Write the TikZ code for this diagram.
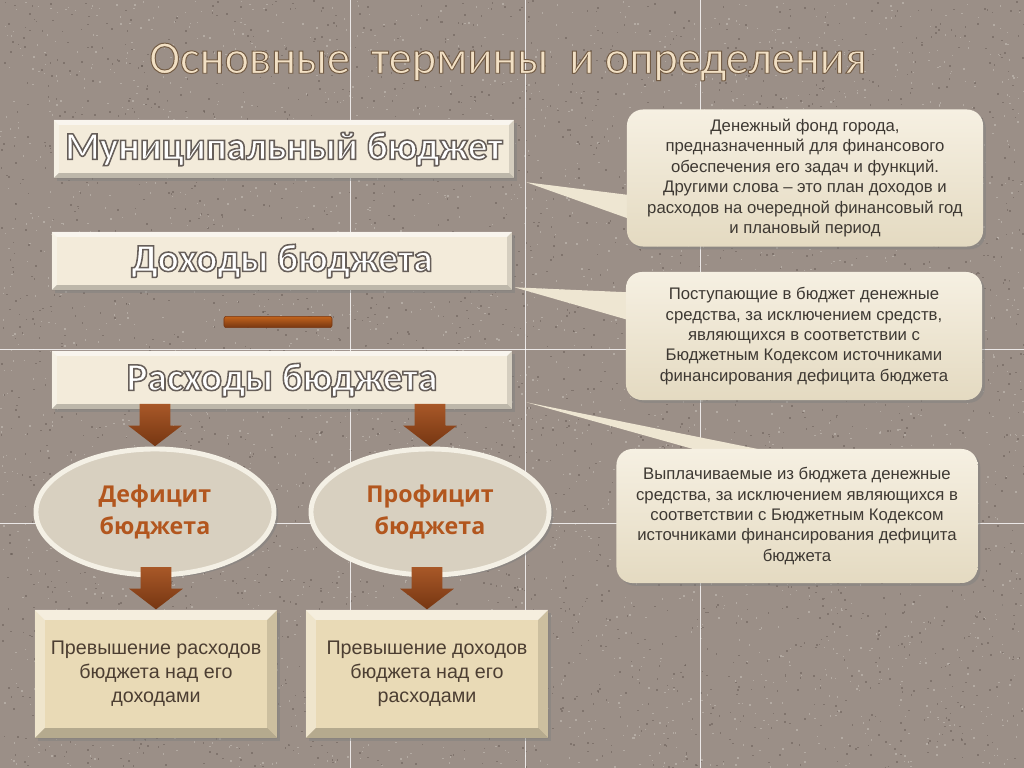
\documentclass[tikz,border=0pt]{standalone}
\usepackage{fontspec}
\setmainfont{Liberation Sans}
\newfontfamily\titlefont{Carlito}
\newfontfamily\ovalfont{Open Sans}
\usepackage{tikz}
\usetikzlibrary{shapes.geometric, shapes.arrows, positioning, calc, shadows}
\definecolor{stone}{RGB}{155,143,135}
\definecolor{speckdark}{RGB}{106,95,88}
\definecolor{specklight}{RGB}{196,188,181}
\definecolor{titlecol}{RGB}{242,224,196}
\definecolor{hdrcream}{RGB}{243,235,218}
\definecolor{calltop}{RGB}{246,240,226}
\definecolor{callbot}{RGB}{228,218,193}
\definecolor{callmid}{RGB}{238,230,210}
\definecolor{calltext}{RGB}{62,57,51}
\definecolor{ovalfill}{RGB}{216,208,192}
\definecolor{ovalrim}{RGB}{244,240,229}
\definecolor{ovaltext}{RGB}{178,86,30}
\definecolor{boxtan}{RGB}{233,218,182}
\definecolor{boxtext}{RGB}{76,62,50}
\definecolor{arrtop}{RGB}{168,88,40}
\definecolor{arrbot}{RGB}{118,54,18}
\pgfdeclarelayer{stonelayer}
\pgfdeclarelayer{tails}
\pgfsetlayers{stonelayer,tails,main}
% text filled in the current colour and stroked: #1 stroke rgb, #2 width
\newcommand{\strokedtext}[3]{{\special{pdf:literal direct #1 RG 2 Tr #2 w}#3\special{pdf:literal direct 0 Tr}}}
% bevelled edges inside a rectangle node
\newcommand{\bevelfill}[1]{%
  \fill[white, opacity=.55] (path picture bounding box.north west) -- (path picture bounding box.north east)
    -- ([shift={(-#1,-#1)}]path picture bounding box.north east) -- ([shift={(#1,-#1)}]path picture bounding box.north west) -- cycle;
  \fill[white, opacity=.3] (path picture bounding box.north west) -- (path picture bounding box.south west)
    -- ([shift={(#1,#1)}]path picture bounding box.south west) -- ([shift={(#1,-#1)}]path picture bounding box.north west) -- cycle;
  \fill[black, opacity=.22] (path picture bounding box.south west) -- (path picture bounding box.south east)
    -- ([shift={(-#1,#1)}]path picture bounding box.south east) -- ([shift={(#1,#1)}]path picture bounding box.south west) -- cycle;
  \fill[black, opacity=.12] (path picture bounding box.north east) -- (path picture bounding box.south east)
    -- ([shift={(-#1,#1)}]path picture bounding box.south east) -- ([shift={(-#1,-#1)}]path picture bounding box.north east) -- cycle;
}
\tikzset{
  shade/.style={drop shadow={shadow xshift=2pt, shadow yshift=-2pt, opacity=.45}},
  titletext/.style={font=\titlefont\fontsize{33}{36}\selectfont, text=titlecol, inner sep=0pt},
  hdrbox/.style={rectangle, fill=hdrcream, minimum width=11.5cm, minimum height=1.45cm,
    inner sep=0pt, shade, path picture={\bevelfill{3.5pt}},
    font=\titlefont\bfseries\fontsize{28}{30}\selectfont, text=white},
  callout/.style={rectangle, rounded corners=0.4cm, top color=calltop, bottom color=callbot,
    minimum width=8.9cm, align=center, text=calltext, inner sep=0pt, shade,
    font=\fontsize{11.9}{14.5}\selectfont},
  tail/.style={fill=callmid},
  oval/.style={ellipse, minimum width=5.95cm, minimum height=3.15cm, fill=ovalfill,
    draw=ovalrim, line width=3.5pt, inner sep=0pt, align=center, text=ovaltext,
    font=\ovalfont\bfseries\fontsize{16.5}{23}\selectfont,
    drop shadow={shadow xshift=3pt, shadow yshift=-2pt, opacity=.5}},
  downarrow/.style={single arrow, shape border rotate=270, minimum height=0.95cm,
    inner xsep=0.375cm, inner ysep=0.375cm, single arrow head extend=0.29cm,
    single arrow tip angle=105, top color=arrtop, bottom color=arrbot},
  dashbar/.style={rectangle, rounded corners=1.5pt, minimum width=2.7cm, minimum height=0.28cm,
    inner sep=0pt, top color=arrtop!70!orange, bottom color=arrbot, draw=arrbot},
  tanbox/.style={rectangle, fill=boxtan, minimum width=6.05cm, minimum height=3.2cm,
    inner sep=0pt, align=center, text=boxtext, shade, path picture={\bevelfill{7pt}},
    font=\fontsize{14}{17}\selectfont}
}
\begin{document}
\begin{tikzpicture}[x=0.025cm, y=-0.025cm]
  \useasboundingbox (0,0) rectangle (1024,768);

  % stone background with grid
  \begin{pgfonlayer}{stonelayer}
    \fill[stone] (0,0) rectangle (1024,768);
    \pgfmathsetseed{42}
    \foreach \i in {1,...,3000} {
      \fill[speckdark, opacity=.55] ({rnd*1024},{rnd*768}) rectangle ++(1.6,1.6);
      \fill[specklight, opacity=.6] ({rnd*1024},{rnd*768}) rectangle ++(1.4,1.4);
    }
    \foreach \gx in {350,525,700}
      \draw[white, opacity=.8, line width=.6pt] (\gx,0) -- (\gx,768);
    \foreach \gy in {349,523}
      \draw[white, opacity=.8, line width=.6pt] (0,\gy) -- (1024,\gy);
  \end{pgfonlayer}

  % title
  \node[titletext] (title) at (508,62) {\strokedtext{0.45 0.36 0.27}{0.7}{Основные~~термины~~и определения}};

  % terms on the left
  \node[hdrbox] (muni) at (284,149) {\strokedtext{0.4 0.37 0.35}{1.1}{Муниципальный бюджет}};
  \node[hdrbox] (income) at (282,261) {\strokedtext{0.4 0.37 0.35}{1.1}{Доходы бюджета}};
  \node[dashbar] (bar) at (278,322) {};
  \node[hdrbox] (spend) at (282,380) {\strokedtext{0.4 0.37 0.35}{1.1}{Расходы бюджета}};

  % definitions on the right
  \node[callout, minimum height=3.425cm] (defmuni) at (805,178) {Денежный фонд города,\\предназначенный для финансового\\обеспечения его задач и функций.\\Другими слова -- это план доходов и\\расходов на очередной финансовый год\\и плановый период};
  \node[callout, minimum height=3.2cm] (defincome) at (804,336) {Поступающие в бюджет денежные\\средства, за исключением средств,\\являющихся в соответствии с\\Бюджетным Кодексом источниками\\финансирования дефицита бюджета};
  \node[callout, minimum height=3.35cm, minimum width=9.025cm] (defspend) at (797,516) {Выплачиваемые из бюджета денежные\\средства, за исключением являющихся в\\соответствии с Бюджетным Кодексом\\источниками финансирования дефицита\\бюджета};

  \coordinate (tip1) at ($(muni.south east)+(12,4)$);
  \coordinate (tip2) at ($(income.south east)+(2,-3)$);
  \coordinate (tip3) at ($(spend.south east)+(14,-7)$);
  \begin{pgfonlayer}{tails}
    \fill[tail] (tip1) -- ($(defmuni.north west)+(12,87)$) -- ($(defmuni.north west)+(12,113)$) -- cycle;
    \fill[tail] (tip2) -- ($(defincome.north west)+(12,21)$) -- ($(defincome.north west)+(12,51)$) -- cycle;
    \fill[tail] (tip3) -- ($(defspend.north west)+(150,2)$) -- ($(defspend.north west)+(83,2)$) -- cycle;
  \end{pgfonlayer}

  % deficit and surplus
  \node[oval] (deficit) at (155,512) {Дефицит\\бюджета};
  \node[oval] (surplus) at (430,512) {Профицит\\бюджета};
  \node[tanbox] (overspend) at (156,674) {Превышение расходов\\бюджета над его\\доходами};
  \node[tanbox] (overincome) at (427,674) {Превышение доходов\\бюджета над его\\расходами};

  \node[downarrow, anchor=tip] (arr1) at (deficit.north) {};
  \node[downarrow, anchor=tip] (arr2) at (surplus.north) {};
  \node[downarrow, anchor=tip] (arr3) at (overspend.north) {};
  \node[downarrow, anchor=tip] (arr4) at (overincome.north) {};
\end{tikzpicture}
\end{document}
